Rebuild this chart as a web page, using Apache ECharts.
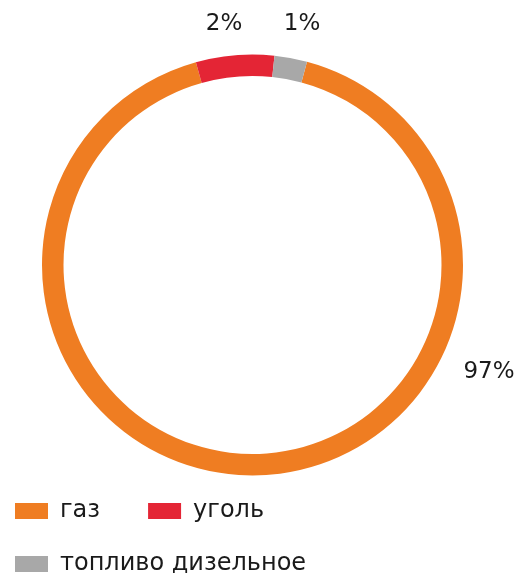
<!DOCTYPE html>
<html>
<head>
<meta charset="utf-8">
<script src="https://cdn.jsdelivr.net/npm/echarts@6/dist/echarts.min.js"></script>
<style>
  html, body { margin: 0; padding: 0; background: #fff; }
  #main { width: 518px; height: 573px; }
</style>
</head>
<body>
<div id="main"></div>
<script>
// fuel types, arc shares as drawn, and the labels printed next to them
const categories = ["газ", "уголь", "топливо дизельное"];
const shares = [91.5, 6, 2.5];
const labels = ["97%", "2%", "1%"];
const colors = ["#EF7D22", "#E42535", "#A8A8A8"];

const chart = echarts.init(document.getElementById("main"));

// hand placed label spots (the picture does not put them at slice midpoints)
const labelSpots = [
  { x: 489, y: 372 },
  { x: 224, y: 24 },
  { x: 302, y: 24 }
];

const fontFamily = "'DejaVu Sans', sans-serif";

const legendText = {
  fontFamily: fontFamily,
  fontSize: 24,
  color: "#1a1a1a",
  padding: [0, 0, 0, 7]
};

const option = {
  animation: false,
  color: colors,
  legend: [
    {
      left: 10,
      top: 494,
      itemWidth: 33,
      itemHeight: 16,
      itemGap: 48,
      icon: "rect",
      data: categories.slice(0, 2),
      textStyle: legendText
    },
    {
      left: 10,
      top: 547,
      itemWidth: 33,
      itemHeight: 16,
      icon: "rect",
      data: categories.slice(2),
      textStyle: legendText
    }
  ],
  series: [
    {
      type: "pie",
      center: [252.5, 265],
      radius: [189, 210.5],
      startAngle: 75,
      clockwise: true,
      avoidLabelOverlap: false,
      label: {
        show: true,
        position: "outside",
        fontFamily: fontFamily,
        fontSize: 23,
        color: "#1a1a1a",
        formatter: function (p) {
          return labels[p.dataIndex];
        }
      },
      labelLine: { show: false },
      labelLayout: function (p) {
        const s = labelSpots[p.dataIndex];
        return { x: s.x, y: s.y, align: "center", verticalAlign: "middle" };
      },
      emphasis: { disabled: true },
      data: categories.map(function (c, i) {
        return { name: c, value: shares[i] };
      })
    }
  ]
};

chart.setOption(option);
</script>
</body>
</html>
